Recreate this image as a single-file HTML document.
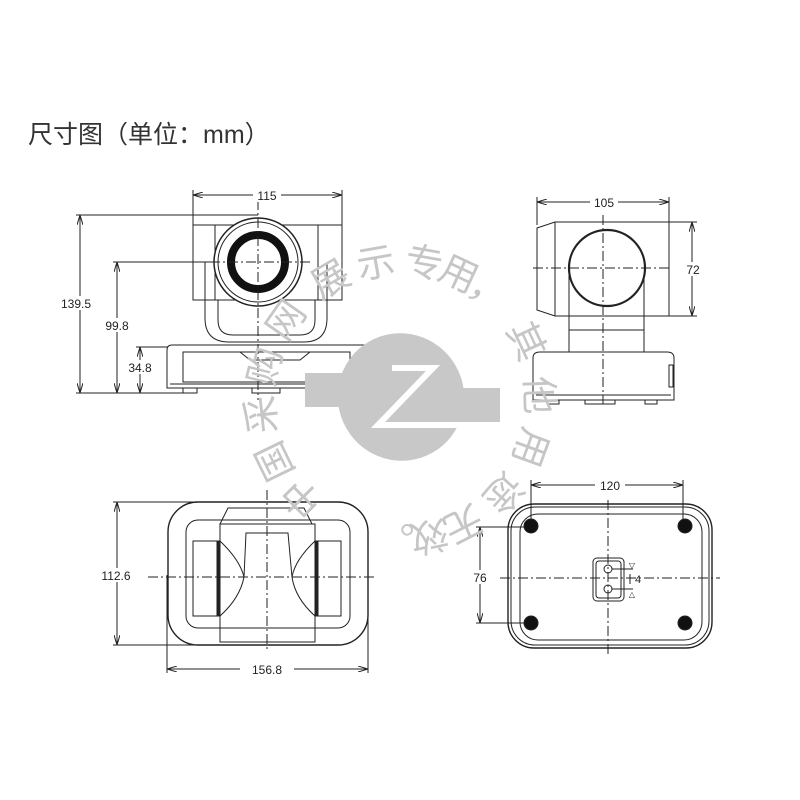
<!DOCTYPE html>
<html><head><meta charset="utf-8"><style>
html,body{margin:0;padding:0;background:#fff;}
svg{display:block}
text{font-family:"Liberation Sans","DejaVu Sans",sans-serif;}
.cjk{font-family:"Liberation Sans","Noto Sans CJK SC",sans-serif;}
</style></head><body>
<svg width="800" height="800" viewBox="0 0 800 800" xmlns="http://www.w3.org/2000/svg">
<defs>
<marker id="a" viewBox="0 0 10 6" refX="10" refY="3" markerWidth="10" markerHeight="6" orient="auto-start-reverse"><path d="M0,0 L10,3 L0,6" fill="none" stroke="#222" stroke-width="1"/></marker>
</defs>
<text class="cjk" x="28" y="143" font-size="25" fill="#333">尺寸图（单位：mm）</text>

<g fill="none" stroke="#222" stroke-width="1">
<!-- FRONT VIEW -->
<line x1="193" y1="195" x2="342" y2="195" marker-start="url(#a)" marker-end="url(#a)"/>
<line x1="193" y1="190" x2="193" y2="226"/><line x1="342" y1="190" x2="342" y2="226"/>
<line x1="76" y1="215" x2="258" y2="215"/>
<line x1="80" y1="215" x2="80" y2="393" marker-start="url(#a)" marker-end="url(#a)"/>
<line x1="76" y1="393" x2="190" y2="393"/>
<line x1="113" y1="262" x2="258" y2="262"/>
<line x1="117" y1="262" x2="117" y2="393" marker-start="url(#a)" marker-end="url(#a)"/>
<line x1="136" y1="347" x2="170" y2="347"/>
<line x1="140" y1="347" x2="140" y2="393" marker-start="url(#a)" marker-end="url(#a)"/>
<rect x="193" y="225" width="22" height="75"/>
<rect x="318" y="225" width="24" height="75"/>
<rect x="215" y="225" width="103" height="75"/>
<path d="M205,262 V318 Q205,342 229,342 H304 Q327,342 327,318 V262"/>
<path d="M218,300 V320 Q218,335 233,335 H300 Q315,335 315,320 V300"/>
<circle cx="258" cy="262" r="44" fill="#fff" stroke-width="1.5"/>
<circle cx="258" cy="262" r="40"/>
<circle cx="258" cy="262" r="27" stroke="#111" stroke-width="8"/>
<path d="M167,388 V350 Q167,345 172,345 H363 Q368,345 368,350 V388 Z" fill="#fff"/>
<path d="M183,352 H350 V382 H183 Z"/>
<path d="M240,352 L250,360 H300 L310,352"/>
<line x1="170" y1="384" x2="366" y2="384"/>
<rect x="183" y="388" width="14" height="5"/><rect x="252" y="388" width="28" height="5"/><rect x="338" y="388" width="14" height="5"/>
<line x1="258" y1="200" x2="258" y2="400" stroke-dasharray="10,3,2,3"/>
<line x1="210" y1="262" x2="310" y2="262" stroke-dasharray="10,3,2,3"/>

<!-- SIDE VIEW -->
<line x1="537" y1="202" x2="669" y2="202" marker-start="url(#a)" marker-end="url(#a)"/>
<line x1="537" y1="197" x2="537" y2="225"/><line x1="669" y1="197" x2="669" y2="316"/>
<line x1="600" y1="222" x2="697" y2="222"/><line x1="640" y1="316" x2="697" y2="316"/>
<line x1="692" y1="222" x2="692" y2="316" marker-start="url(#a)" marker-end="url(#a)"/>
<path d="M555,222 H669 V316 H555 L537,310 V228 Z"/>
<line x1="555" y1="222" x2="555" y2="316"/>
<rect x="569" y="268" width="75" height="84"/>
<line x1="569" y1="330" x2="644" y2="330"/>
<circle cx="607" cy="268" r="38" fill="#fff" stroke-width="2.2"/>
<path d="M533,400 V358 Q533,352 540,352 H667 Q674,352 674,358 V400 Z" fill="#fff"/>
<line x1="536" y1="395" x2="671" y2="395"/>
<rect x="669" y="365" width="4" height="22"/>
<rect x="547" y="400" width="12" height="4"/><rect x="585" y="400" width="30" height="4"/><rect x="645" y="400" width="12" height="4"/>
<line x1="603" y1="215" x2="603" y2="404" stroke-dasharray="10,3,2,3"/>
<line x1="533" y1="268" x2="670" y2="268" stroke-dasharray="10,3,2,3"/>

<!-- BOTTOM LEFT -->
<line x1="113" y1="502" x2="230" y2="502"/><line x1="113" y1="645" x2="230" y2="645"/>
<line x1="117" y1="502" x2="117" y2="645" marker-start="url(#a)" marker-end="url(#a)"/>
<line x1="167" y1="575" x2="167" y2="673"/><line x1="368" y1="575" x2="368" y2="673"/>
<line x1="167" y1="669" x2="368" y2="669" marker-start="url(#a)" marker-end="url(#a)"/>
<rect x="168" y="502" width="200" height="143" rx="30" stroke-width="1.4"/>
<rect x="186" y="520" width="164" height="108" rx="12"/>
<rect x="193" y="541" width="24" height="75"/><rect x="217" y="541" width="3" height="75" fill="#222"/>
<rect x="318" y="541" width="23" height="75"/><rect x="315" y="541" width="3" height="75" fill="#222"/>
<path d="M220,524 L228,508 H304 L312,524 Z"/>
<rect x="220" y="524" width="95" height="118"/>
<path d="M220,541 Q240,560 244,577 Q240,598 220,616"/>
<path d="M315,541 Q295,560 292,577 Q295,598 315,616"/>
<path d="M244,577 L246,533 H288 L292,577"/>
<line x1="267" y1="490" x2="267" y2="650" stroke-dasharray="10,3,2,3"/>
<line x1="148" y1="577" x2="375" y2="577" stroke-dasharray="10,3,2,3"/>

<!-- BOTTOM RIGHT -->
<line x1="531" y1="480" x2="531" y2="526"/><line x1="683" y1="480" x2="683" y2="526"/>
<line x1="531" y1="485" x2="683" y2="485" marker-start="url(#a)" marker-end="url(#a)"/>
<line x1="476" y1="527" x2="531" y2="527"/><line x1="476" y1="623" x2="531" y2="623"/>
<line x1="480" y1="527" x2="480" y2="623" marker-start="url(#a)" marker-end="url(#a)"/>
<rect x="508" y="504" width="204" height="144" rx="26" stroke-width="1.4"/>
<rect x="511" y="507" width="198" height="138" rx="24"/>
<rect x="520" y="514" width="182" height="126" rx="18"/>
<circle cx="531" cy="526" r="7" fill="#111"/><circle cx="685" cy="526" r="7" fill="#111"/>
<circle cx="531" cy="623" r="7" fill="#111"/><circle cx="685" cy="623" r="7" fill="#111"/>
<rect x="593" y="558" width="31" height="43" rx="4"/>
<rect x="596" y="561" width="25" height="37" rx="3"/>
<circle cx="608" cy="569" r="4"/><circle cx="608" cy="589" r="4"/>
<line x1="612" y1="569" x2="633" y2="569"/><line x1="612" y1="589" x2="633" y2="589"/>
<line x1="630" y1="574" x2="630" y2="584"/>
<line x1="608" y1="500" x2="608" y2="655" stroke-dasharray="10,3,2,3"/>
<line x1="500" y1="578" x2="720" y2="578" stroke-dasharray="10,3,2,3"/>
</g>
<g fill="#222" font-size="12" text-anchor="middle">
<rect x="253" y="188" width="28" height="14" fill="#fff"/><text x="267" y="200">115</text>
<rect x="50" y="296" width="48" height="14" fill="#fff"/><text x="76" y="308">139.5</text>
<rect x="98" y="318" width="38" height="14" fill="#fff"/><text x="117" y="330">99.8</text>
<rect x="121" y="360" width="38" height="14" fill="#fff"/><text x="140" y="372">34.8</text>
<rect x="590" y="195" width="28" height="14" fill="#fff"/><text x="604" y="207">105</text>
<rect x="684" y="262" width="18" height="14" fill="#fff"/><text x="693" y="274">72</text>
<rect x="92" y="568" width="48" height="14" fill="#fff"/><text x="116" y="580">112.6</text>
<rect x="240" y="662" width="54" height="14" fill="#fff"/><text x="267" y="674">156.8</text>
<rect x="595" y="478" width="30" height="14" fill="#fff"/><text x="610" y="490">120</text>
<rect x="470" y="570" width="20" height="14" fill="#fff"/><text x="480" y="582">76</text>
<text x="638" y="583" font-size="11">4</text>
<text x="632" y="568" font-size="8">▽</text><text x="632" y="597" font-size="8">△</text>
</g>

<!-- WATERMARK -->
<g fill="#c8c8c8">
<ellipse cx="401" cy="397" rx="63" ry="64" transform="rotate(-30 401 397)"/>
<rect x="305" y="373" width="95" height="34"/>
<rect x="440" y="388" width="60" height="36"/>
</g>
<path d="M392,368 H433 L378,425 H505" fill="none" stroke="#fff" stroke-width="6"/>
<g class="cjk" fill="#c6c6c6" font-size="38" text-anchor="middle">
<text x="400" y="274" transform="rotate(225 400 400)">中</text>
<text x="400" y="274" transform="rotate(244 400 400)">国</text>
<text x="400" y="274" transform="rotate(264 400 400)">采</text>
<text x="400" y="274" transform="rotate(284 400 400)">购</text>
<text x="400" y="274" transform="rotate(305 400 400)">网</text>
<text x="400" y="274" transform="rotate(330 400 400)">展</text>
<text x="400" y="274" transform="rotate(350 400 400)">示</text>
<text x="400" y="274" transform="rotate(10 400 400)">专</text>
<text x="400" y="274" transform="rotate(25 400 400)">用</text>
<text x="400" y="274" transform="rotate(40 400 400)">，</text>
<text x="400" y="274" transform="rotate(65 400 400)">其</text>
<text x="400" y="274" transform="rotate(88 400 400)">他</text>
<text x="400" y="274" transform="rotate(110 400 400)">用</text>
<text x="400" y="274" transform="rotate(132 400 400)">途</text>
<text x="400" y="274" transform="rotate(153 400 400)">无</text>
<text x="400" y="274" transform="rotate(168 400 400)">效</text>
<text x="400" y="274" transform="rotate(182 400 400)">。</text>
</g>
</svg>
</body></html>
